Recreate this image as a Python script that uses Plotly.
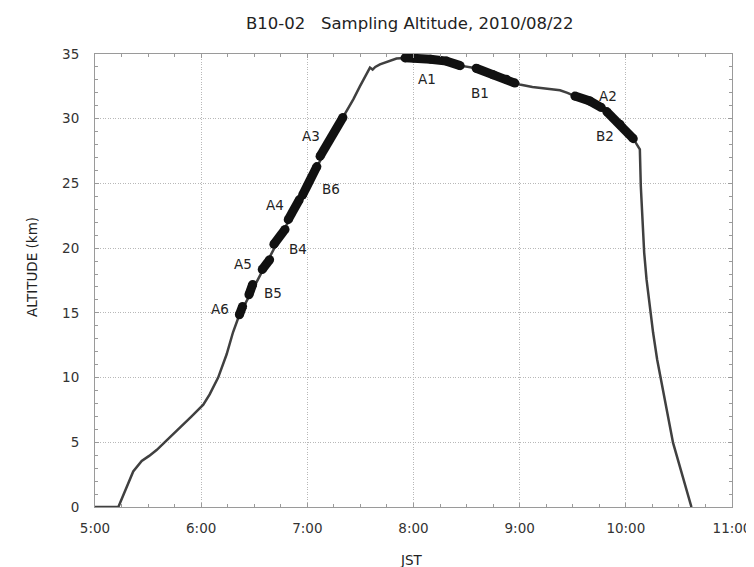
import plotly.graph_objects as go

# Flight profile: time (decimal hours JST) and altitude (km)
profile_time = [5.00, 5.22, 5.36, 5.44, 5.51, 5.58, 5.675, 5.80, 5.91, 6.02, 6.08, 6.16,
                6.24, 6.30, 6.36, 7.335, 7.37, 7.433, 7.495, 7.526, 7.564, 7.59, 7.615,
                7.64, 7.684, 7.84,
                7.92, 8.00, 8.16, 8.31, 8.44, 8.50, 8.59, 8.75, 8.875, 8.955, 9.00, 9.12,
                9.25, 9.38, 9.45, 9.52, 9.66, 9.77, 9.85, 9.945, 10.07, 10.11, 10.132,
                10.141, 10.154, 10.173, 10.195, 10.226, 10.257, 10.295, 10.342, 10.398,
                10.445, 10.618]
profile_alt = [0.0, 0.0, 2.75, 3.55, 3.95, 4.4, 5.15, 6.1, 7.0, 7.9, 8.7, 10.0,
               11.8, 13.5, 14.85, 30.1, 30.6, 31.5, 32.5, 33.0, 33.65, 33.95, 33.8,
               34.0, 34.2, 34.65,
               34.7, 34.7, 34.6, 34.45, 34.1, 34.0, 33.9, 33.4, 33.05, 32.75, 32.65, 32.45,
               32.35, 32.2, 32.0, 31.75, 31.37, 30.86, 30.34, 29.57, 28.46, 27.95, 27.64,
               24.8, 22.2, 19.64, 17.58, 15.5, 13.46, 11.4, 9.33, 6.75,
               4.95, 0.0]

# Sampling segments
sample_names = ["A6", "B5", "A5", "B4", "A4", "B6", "A3", "A1", "B1", "A2", "B2"]
sample_time = [
    [6.36, 6.39],
    [6.45, 6.485],
    [6.575, 6.645],
    [6.685, 6.79],
    [6.82, 6.925],
    [6.955, 7.09],
    [7.12, 7.335],
    [7.92, 8.00, 8.16, 8.31, 8.44],
    [8.59, 8.75, 8.875, 8.955],
    [9.52, 9.66, 9.77],
    [9.82, 9.945, 10.07],
]
sample_alt = [
    [14.85, 15.5],
    [16.4, 17.2],
    [18.35, 19.1],
    [20.3, 21.45],
    [22.2, 23.75],
    [24.1, 26.3],
    [27.1, 30.1],
    [34.7, 34.7, 34.6, 34.45, 34.1],
    [33.9, 33.4, 33.05, 32.75],
    [31.75, 31.37, 30.86],
    [30.55, 29.57, 28.46],
]
label_time = [6.177, 6.68, 6.397, 6.914, 6.695, 7.219, 7.031, 8.123, 8.625, 9.834, 9.802]
label_alt = [15.31, 16.55, 18.74, 19.95, 23.3, 24.54, 28.66, 33.05, 32.02, 31.76, 28.66]

x_tickvals = [5, 6, 7, 8, 9, 10, 11]
x_ticktext = ["5:00", "6:00", "7:00", "8:00", "9:00", "10:00", "11:00"]
y_tickvals = [0, 5, 10, 15, 20, 25, 30, 35]

FONT = "DejaVu Sans"
fig = go.Figure()
fig.add_trace(go.Scatter(x=profile_time, y=profile_alt, mode="lines",
                         line=dict(color="#404040", width=2.5),
                         hoverinfo="skip"))
for t, a in zip(sample_time, sample_alt):
    fig.add_trace(go.Scatter(x=t, y=a, mode="lines+markers",
                             line=dict(color="#111111", width=9),
                             marker=dict(color="#111111", size=9),
                             hoverinfo="skip"))
for n, t, a in zip(sample_names, label_time, label_alt):
    fig.add_annotation(x=t, y=a, text=n, showarrow=False,
                       font=dict(family=FONT, size=13.5, color="#222222"))

fig.add_annotation(xref="paper", yref="paper", x=0.4945, y=1, yanchor="middle", yshift=31,
                   text="B10-02&nbsp;&nbsp;&nbsp;Sampling Altitude, 2010/08/22",
                   showarrow=False, font=dict(family=FONT, size=16.5, color="#222222"))
fig.add_annotation(xref="paper", yref="paper", x=-0.1146, y=0.53, text="ALTITUDE (km)", textangle=-90,
                   showarrow=False, font=dict(family=FONT, size=13.5, color="#222222"))
fig.add_annotation(xref="paper", yref="paper", x=0.497, y=0, yanchor="middle", yshift=-53, text="JST",
                   showarrow=False, font=dict(family=FONT, size=13.5, color="#222222"))

axis_common = dict(showline=True, linecolor="#9a9a9a", linewidth=1, mirror="ticks",
                   ticks="inside", ticklen=4, tickcolor="#9a9a9a", automargin=False,
                   showgrid=True, gridcolor="#b8b8b8", griddash="1px,1.5px", gridwidth=1,
                   zeroline=False, tickfont=dict(family=FONT, size=13.5, color="#333333"))
fig.update_xaxes(range=[5, 11], tickmode="array", tickvals=x_tickvals, ticktext=x_ticktext,
                 minor=dict(tick0=5, dtick=0.25, ticks="inside", ticklen=3, tickcolor="#9a9a9a", showgrid=False),
                 ticklabelstandoff=9, **axis_common)
fig.update_yaxes(range=[0, 35], tickmode="array", tickvals=y_tickvals,
                 minor=dict(tick0=0, dtick=1, ticks="inside", ticklen=3, tickcolor="#9a9a9a", showgrid=False),
                 ticklabelstandoff=12, **axis_common)
# page body has an 8px margin, so the figure is 8px smaller than the window
fig.update_layout(width=746, height=559, showlegend=False,
                  margin=dict(l=87, r=22, t=46, b=60),
                  plot_bgcolor="white", paper_bgcolor="white")
fig.write_html("out.html")
